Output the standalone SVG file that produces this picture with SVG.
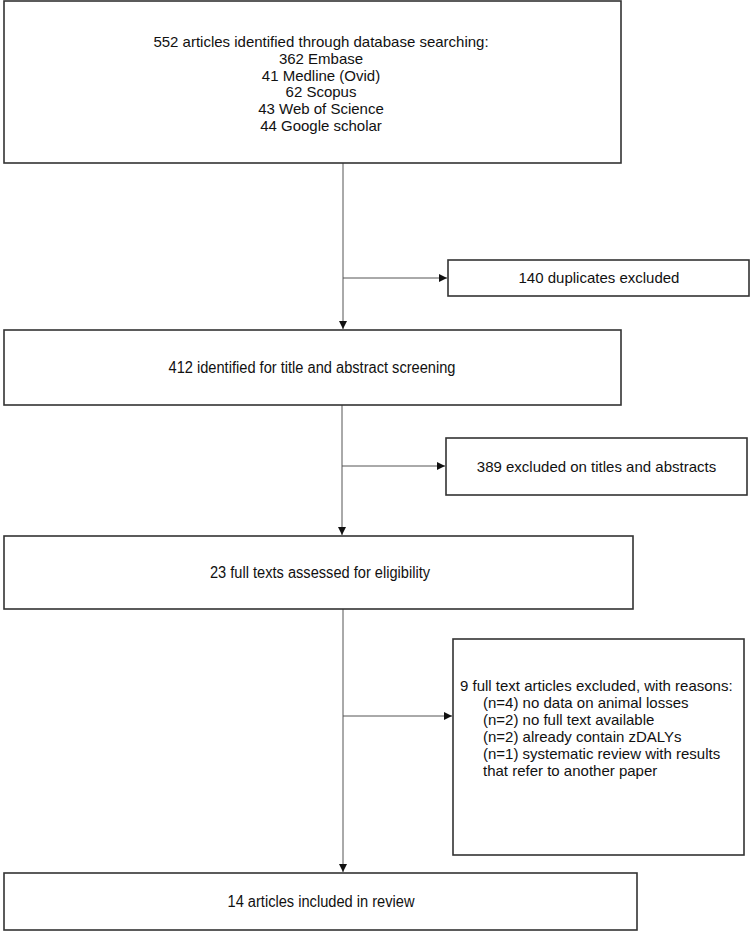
<svg xmlns="http://www.w3.org/2000/svg" width="750" height="932" viewBox="0 0 750 932">
<style>
.box{fill:#fff;stroke:#333;stroke-width:1.6}
.t{font-family:"Liberation Sans",Arial,sans-serif;font-size:15px;fill:#111}
.c{text-anchor:middle}
.n{font-family:"Liberation Sans",Arial,sans-serif;font-size:16px;fill:#111;text-anchor:middle}
.ln{stroke:#555;stroke-width:1;fill:none}
</style>
<defs>
<marker id="ah" viewBox="0 0 10 10" refX="10" refY="5" markerWidth="8" markerHeight="8" markerUnits="userSpaceOnUse" orient="auto">
<path d="M0,0 L10,5 L0,10 z" fill="#111"/>
</marker>
</defs>
<rect width="750" height="932" fill="#fff"/>
<g id="connectors">
<line class="ln" x1="343" y1="163" x2="343" y2="329" marker-end="url(#ah)"/>
<line class="ln" x1="343" y1="278" x2="447" y2="278" marker-end="url(#ah)"/>
<line class="ln" x1="342" y1="405" x2="342" y2="535" marker-end="url(#ah)"/>
<line class="ln" x1="342" y1="466" x2="445" y2="466" marker-end="url(#ah)"/>
<line class="ln" x1="343" y1="609" x2="343" y2="872" marker-end="url(#ah)"/>
<line class="ln" x1="343" y1="716" x2="452" y2="716" marker-end="url(#ah)"/>
</g>
<g id="n1">
<rect class="box" x="4" y="1" width="617" height="162"/>
<text class="t c" font-size="15.5" x="321" y="47">552 articles identified through database searching:</text>
<text class="t c" x="321" y="64">362 Embase</text>
<text class="t c" x="321" y="80.5">41 Medline (Ovid)</text>
<text class="t c" x="321" y="97">62 Scopus</text>
<text class="t c" x="321" y="114">43 Web of Science</text>
<text class="t c" x="321" y="130.5">44 Google scholar</text>
</g>
<g id="n2">
<rect class="box" x="448" y="260" width="301" height="36"/>
<text class="t c" font-size="14.6" x="599" y="283">140 duplicates excluded</text>
</g>
<g id="n3">
<rect class="box" x="4" y="330" width="617" height="75"/>
<text class="n" x="312" y="373" textLength="287" lengthAdjust="spacingAndGlyphs">412 identified for title and abstract screening</text>
</g>
<g id="n4">
<rect class="box" x="446" y="438" width="301" height="57"/>
<text class="t c" font-size="14.6" x="596.5" y="472">389 excluded on titles and abstracts</text>
</g>
<g id="n5">
<rect class="box" x="4" y="536" width="629" height="73"/>
<text class="n" x="320" y="578" textLength="220" lengthAdjust="spacingAndGlyphs">23 full texts assessed for eligibility</text>
</g>
<g id="n6">
<rect class="box" x="453" y="639" width="291" height="216"/>
<text class="t" font-size="15.2" x="460" y="691">9 full text articles excluded, with reasons:</text>
<text class="t" font-size="15.2" x="483" y="708">(n=4) no data on animal losses</text>
<text class="t" font-size="15.2" x="483" y="725">(n=2) no full text available</text>
<text class="t" font-size="15.2" x="483" y="742">(n=2) already contain zDALYs</text>
<text class="t" font-size="15.2" x="483" y="759">(n=1) systematic review with results</text>
<text class="t" font-size="15.2" x="483" y="776">that refer to another paper</text>
</g>
<g id="n7">
<rect class="box" x="4" y="873" width="633" height="57"/>
<text class="n" x="321" y="907" textLength="187" lengthAdjust="spacingAndGlyphs">14 articles included in review</text>
</g>
</svg>
